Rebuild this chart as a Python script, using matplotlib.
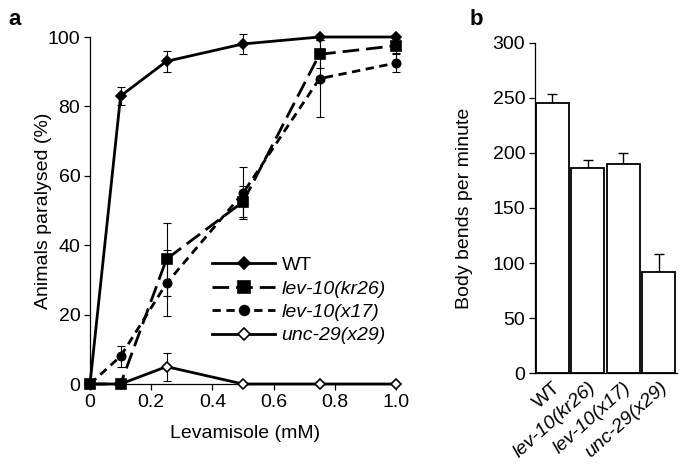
import matplotlib
matplotlib.use("Agg")
import matplotlib.pyplot as plt
from matplotlib.lines import Line2D
import numpy as np

plt.rcParams['font.family'] = ['Liberation Sans', 'DejaVu Sans']

# Panel a data
levamisole = [0, 0.1, 0.25, 0.5, 0.75, 1.0]
wt = [0, 83, 93, 98, 100, 100]
wt_err = [0, 2.5, 3, 3, 0, 0]
kr26 = [0, 0, 36, 52.5, 95, 97.5]
kr26_err = [0, 0, 10.5, 4.5, 4, 2]
x17 = [0, 8, 29, 55, 88, 92.5]
x17_err = [0, 3, 9.5, 7.5, 11, 2.5]
unc29 = [0, 0, 5, 0, 0, 0]
unc29_err = [0, 0, 4, 0, 0, 0]
x_ticks = [0, 0.2, 0.4, 0.6, 0.8, 1.0]
x_ticklabels = ['0', '0.2', '0.4', '0.6', '0.8', '1.0']
y_ticks_a = [0, 20, 40, 60, 80, 100]
series_names = ['WT', 'lev-10(kr26)', 'lev-10(x17)', 'unc-29(x29)']

# Panel b data
strains = ['WT', 'lev-10(kr26)', 'lev-10(x17)', 'unc-29(x29)']
bends = [245, 186.5, 190, 91.5]
bends_err = [8, 7, 10, 17]
y_ticks_b = [0, 50, 100, 150, 200, 250, 300]

fig = plt.figure(figsize=(6.85, 4.69), dpi=100)
FS = 14

ax = fig.add_axes([90/685, 85/469, 310/685, 347/469])
styles = [
    dict(ls='-', marker='D', ms=5.5, mfc='black'),
    dict(ls=(0, (6, 2.5)), marker='s', ms=7, mfc='black'),
    dict(ls=(0, (3, 2)), marker='o', ms=6, mfc='black'),
    dict(ls='-', marker='D', ms=5.5, mfc='white'),
]
data = [(wt, wt_err), (kr26, kr26_err), (x17, x17_err), (unc29, unc29_err)]
zorders = [6, 5, 4, 3]
for (y, e), st, z in zip(data, styles, zorders):
    ax.errorbar(levamisole, y, yerr=e, fmt='none', ecolor='black', elinewidth=0.8,
                capsize=3, capthick=0.8, clip_on=False, zorder=z)
    ax.plot(levamisole, y, color='black', lw=2, ls=st['ls'], marker=st['marker'],
            ms=st['ms'], mfc=st['mfc'], mec='black', mew=1.2, clip_on=False, zorder=z)

ax.set_xlim(0, 1.013)
ax.set_ylim(0, 100)
ax.set_xticks(x_ticks)
ax.set_xticklabels(x_ticklabels)
ax.set_yticks(y_ticks_a)
ax.spines['top'].set_visible(False)
ax.spines['right'].set_visible(False)
for s in ['left', 'bottom']:
    ax.spines[s].set_linewidth(0.9)
ax.tick_params(direction='out', length=4, width=0.9, labelsize=FS, pad=3)
ax.set_xlabel('Levamisole (mM)', fontsize=FS, labelpad=10)
ax.set_ylabel('Animals paralysed (%)', fontsize=FS, labelpad=-3)

handles = [Line2D([], [], color='black', lw=2, ls=st['ls'], marker=st['marker'],
                  ms=st['ms'] + 1, mfc=st['mfc'], mec='black', mew=1.2) for st in styles]
leg = ax.legend(handles, series_names, loc='upper left', bbox_to_anchor=(0.37, 0.39),
                frameon=False, fontsize=FS, handlelength=3.2, handletextpad=0.35,
                labelspacing=0.3, borderaxespad=0)
for t in leg.get_texts():
    if t.get_text() != 'WT':
        t.set_style('italic')

fig.text(8/685, 1 - 25/469, 'a', fontsize=16, fontweight='bold')

# Panel b
axb = fig.add_axes([535/685, 95.7/469, 142/685, 330.7/469])
pos = np.arange(len(strains))
axb.bar(pos, bends, width=0.93, color='white', edgecolor='black', lw=1.3, zorder=2)
axb.errorbar(pos, bends, yerr=[np.zeros(len(bends)), bends_err], fmt='none',
             ecolor='black', elinewidth=1.0, capsize=3.5, capthick=1.0, zorder=1)
axb.set_xlim(-0.49, 3.51)
axb.set_ylim(0, 300)
axb.set_yticks(y_ticks_b)
axb.set_xticks(pos)
axb.set_xticklabels(strains, rotation=42, ha='right', rotation_mode='anchor')
for t in axb.get_xticklabels():
    if t.get_text() != 'WT':
        t.set_style('italic')
axb.spines['top'].set_visible(False)
axb.spines['right'].set_visible(False)
for s in ['left', 'bottom']:
    axb.spines[s].set_linewidth(0.9)
axb.tick_params(axis='y', direction='out', length=4, width=0.9, labelsize=FS, pad=3)
axb.tick_params(axis='x', length=0, labelsize=FS, pad=4)
axb.set_ylabel('Body bends per minute', fontsize=FS, labelpad=14)

fig.text(470/685, 1 - 25/469, 'b', fontsize=16, fontweight='bold')

fig.savefig('out.png', dpi=100)
